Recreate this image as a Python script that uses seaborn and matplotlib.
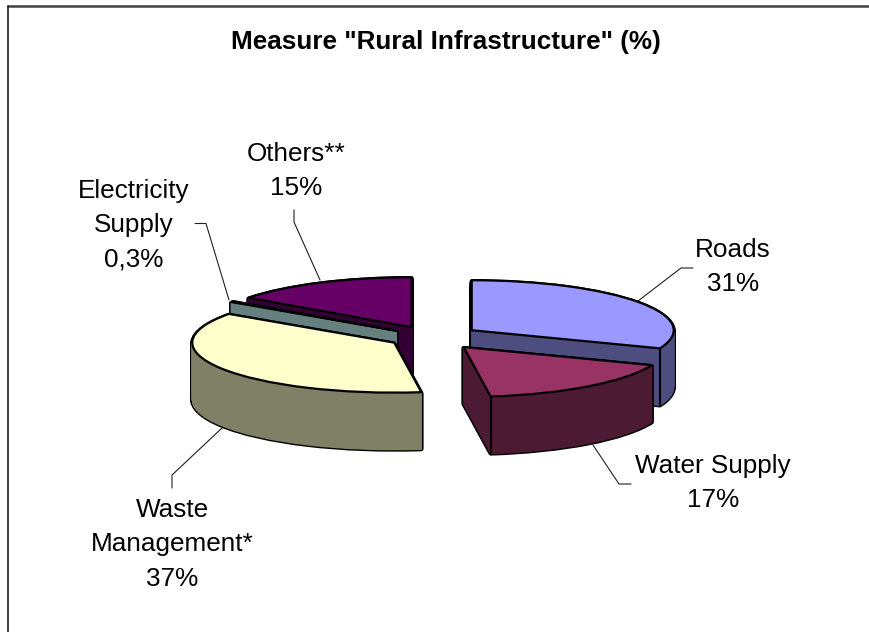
import numpy as np
import matplotlib
matplotlib.use('Agg')
import matplotlib.pyplot as plt
import seaborn as sns

# --- DATA ---
categories = ['Roads', 'Water Supply', 'Waste\nManagement*', 'Electricity\nSupply', 'Others**']
shares = [31, 17, 37, 0.3, 15]
share_labels = ['31%', '17%', '37%', '0,3%', '15%']
top_colors = ['#9999FF', '#993366', '#FFFFCC', '#CCFFFF', '#660066']
side_colors = ['#4D4D80', '#4D1A33', '#808066', '#668080', '#330033']
draw_rank = [2, 4, 3, 1, 0]  # back to front
label_xy = [(733, 248), (713, 464), (172, 508), (134, 189), (296, 152)]
leaders = [
    [(638, 301), (681, 268), (693, 268)],
    [(593, 445), (619, 484), (631, 484)],
    [(222, 428), (172, 475), (172, 488)],
    [(229, 300), (206, 223.5), (195, 223.5)],
    [(320, 280), (294, 222), (294, 210)],
]

# --- CONFIGURATION ---
W, H = 870, 632
CX, CY = 431.7, 337.0   # pie centre, px
RX, RY = 202, 50        # ellipse radii, px
DEPTH = 57              # height of the pie, px
EXPLODE = [0.24, 0.255, 0.217, 0.215, 0.22]
FONT = 18.8

sns.set_theme(style='white')
plt.rcParams['font.family'] = ['Liberation Sans', 'DejaVu Sans']

fig = plt.figure(figsize=(W / 100, H / 100), dpi=100, facecolor='white')
ax = fig.add_axes([0, 0, 1, 1])


def pie_layer(offset, faces, edge, lw, level):
    wedges, _ = ax.pie(shares, explode=EXPLODE, colors=faces, startangle=90,
                       counterclock=False, center=(0, -offset / RY),
                       wedgeprops=dict(linewidth=lw, joinstyle='round'))
    for w, rank, ec in zip(wedges, draw_rank, edge):
        w.set_zorder(rank * 10 + level)
        w.set_edgecolor(ec)
    return wedges


# 1. extruded body: black silhouette first, side colour over it
for off in range(DEPTH, 0, -1):
    pie_layer(off, ['black'] * 5, ['black'] * 5, 3.0, 1)
for off in range(DEPTH, 0, -1):
    pie_layer(off, side_colors, side_colors, 1.0, 2)

# 2. top faces
top = pie_layer(0, top_colors, ['black'] * 5, 1.6, 3)

# 3. vertical line where the cut face meets the rim (clockwise end of a slice)
for w, rank in zip(top, draw_rank):
    cx, cy = w.center
    px = cx + w.r * np.cos(np.radians(w.theta1))
    py = cy + w.r * np.sin(np.radians(w.theta1))
    if py < cy:
        ax.plot([px, px], [py, py - DEPTH / RY], color='black', lw=1.5, zorder=rank * 10 + 4)

ax.set_aspect('auto')
ax.set_xlim(-CX / RX, (W - CX) / RX)
ax.set_ylim(-(H - CY) / RY, CY / RY)
ax.axis('off')

# --- TEXT AND LEADERS ---
over = fig.add_axes([0, 0, 1, 1], zorder=5)
over.set_xlim(0, W)
over.set_ylim(H, 0)
over.axis('off')
over.patch.set_alpha(0)

over.plot([8, W], [6, 6], color='#404040', lw=1.8)
over.plot([8, 8], [6, H], color='#202020', lw=1.2)

over.text(446, 42, 'Measure "Rural Infrastructure" (%)', ha='center', va='center',
          fontsize=FONT, fontweight='bold', color='black')

for name, pct, (x, y), leader in zip(categories, share_labels, label_xy, leaders):
    for i, line in enumerate(name.split('\n') + [pct]):
        over.text(x, y + 2 + i * 34.3, line, ha='center', va='center', fontsize=FONT, color='black')
    xs, ys = zip(*leader)
    over.plot(xs, ys, color='#202020', lw=0.8)

plt.savefig('out.png', dpi=100)
